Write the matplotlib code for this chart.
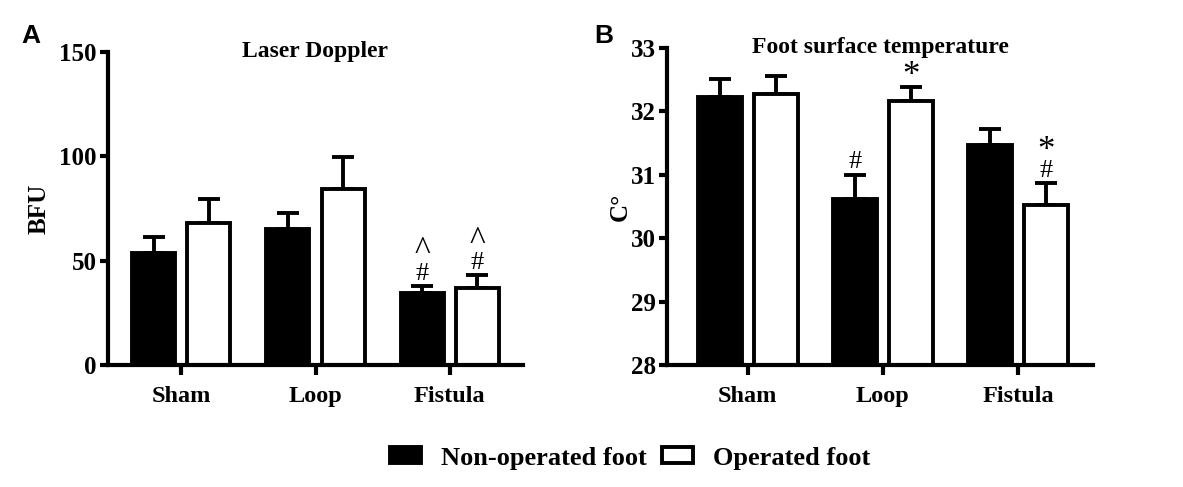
import matplotlib
matplotlib.use("Agg")
import matplotlib.pyplot as plt
from matplotlib.patches import Patch

categories = ["Sham", "Loop", "Fistula"]
series = ["Non-operated foot", "Operated foot"]

bfu_non = [53.7, 65.2, 34.5]
bfu_non_err = [7.6, 7.6, 3.4]
bfu_op = [68.0, 84.3, 36.9]
bfu_op_err = [11.5, 15.4, 6.2]
bfu_marks_non = [[], [], ["#", "^"]]
bfu_marks_op = [[], [], ["#", "^"]]

temp_non = [32.23, 30.62, 31.47]
temp_non_err = [0.28, 0.38, 0.25]
temp_op = [32.27, 32.17, 30.52]
temp_op_err = [0.29, 0.21, 0.35]
temp_marks_non = [[], ["#"], []]
temp_marks_op = [[], ["*"], ["#", "*"]]

W, H = 1183, 487
fig = plt.figure(figsize=(W / 100, H / 100), dpi=100)

serif = "Liberation Serif"
LW = 2.8
MARK_SIZE = {"#": 19, "^": 24, "*": 25}
MARK_DY = {"#": 0, "^": -2, "*": -5}

def make_ax(l, r, t, b):
    return fig.add_axes([l / W, 1 - b / H, (r - l) / W, (b - t) / H])

def draw(ax, non, non_err, op, op_err, marks_non, marks_op, ylim, yticks,
         ylabel, title, xlim, off, width, labelpad):
    x = list(range(len(categories)))
    xn = [i - off for i in x]
    xo = [i + off for i in x]
    base = ylim[0]
    ax.bar(xn, [v - base for v in non], width, bottom=base,
           color="black", edgecolor="black", linewidth=LW, zorder=2)
    ax.bar(xo, [v - base for v in op], width, bottom=base,
           color="white", edgecolor="black", linewidth=LW, zorder=2)
    ax.errorbar(xn, non, yerr=[[0] * 3, non_err], fmt="none", ecolor="black",
                elinewidth=LW, capsize=8, capthick=LW, zorder=1)
    ax.errorbar(xo, op, yerr=[[0] * 3, op_err], fmt="none", ecolor="black",
                elinewidth=LW, capsize=8, capthick=LW, zorder=1)
    for xs, vals, errs, marks in ((xn, non, non_err, marks_non), (xo, op, op_err, marks_op)):
        for xi, v, e, ms in zip(xs, vals, errs, marks):
            for k, m in enumerate(ms):
                ax.annotate(m, (xi, v + e), xytext=(0, 1 + 15 * k + MARK_DY[m]),
                            textcoords="offset points", ha="center", va="bottom",
                            fontsize=MARK_SIZE[m], family=serif, annotation_clip=False)
    ax.set_ylim(*ylim)
    ax.set_xlim(*xlim)
    ax.set_yticks(yticks)
    ax.set_xticks(x)
    ax.set_xticklabels(categories)
    for s in ("top", "right"):
        ax.spines[s].set_visible(False)
    for s in ("left", "bottom"):
        ax.spines[s].set_linewidth(3)
    ax.tick_params(axis="y", width=3, length=6, direction="out", pad=2)
    ax.tick_params(axis="x", width=3, length=7, direction="out", pad=8)
    for lab in ax.get_yticklabels():
        lab.set_fontfamily(serif)
        lab.set_fontweight("bold")
        lab.set_fontsize(18)
    for lab in ax.get_xticklabels():
        lab.set_fontfamily(serif)
        lab.set_fontweight("bold")
        lab.set_fontsize(17.5)
    ax.set_ylabel(ylabel, fontfamily=serif, fontweight="bold", fontsize=18, labelpad=labelpad)
    ax.text(0.5, 1.0, title, transform=ax.transAxes, ha="center", va="center",
            fontfamily=serif, fontweight="bold", fontsize=17)

axA = make_ax(108, 523, 52, 365)
draw(axA, bfu_non, bfu_non_err, bfu_op, bfu_op_err, bfu_marks_non, bfu_marks_op,
     (0, 150), [0, 50, 100, 150], "BFU", "Laser Doppler",
     (-0.545, 2.545), 0.205, 0.32, 6)

axB = make_ax(667, 1093, 48, 365)
draw(axB, temp_non, temp_non_err, temp_op, temp_op_err, temp_marks_non, temp_marks_op,
     (28, 33), [28, 29, 30, 31, 32, 33], "C°", "Foot surface temperature",
     (-0.598, 2.556), 0.207, 0.326, -1)

fig.text(31 / W, 1 - 36 / H, "A", fontsize=19, fontweight="bold", family="Liberation Sans",
         ha="center", va="center")
fig.text(604 / W, 1 - 36 / H, "B", fontsize=19, fontweight="bold", family="Liberation Sans",
         ha="center", va="center")

handles = [Patch(facecolor="black", edgecolor="black", linewidth=LW),
           Patch(facecolor="white", edgecolor="black", linewidth=LW)]
fig.legend(handles, series, loc="center", bbox_to_anchor=(630 / W, 1 - 458 / H),
           ncol=2, frameon=False, handlelength=1.2, handleheight=0.55,
           columnspacing=0.57, handletextpad=0.75,
           prop={"family": serif, "weight": "bold", "size": 19})

fig.savefig("out.png", dpi=100)
